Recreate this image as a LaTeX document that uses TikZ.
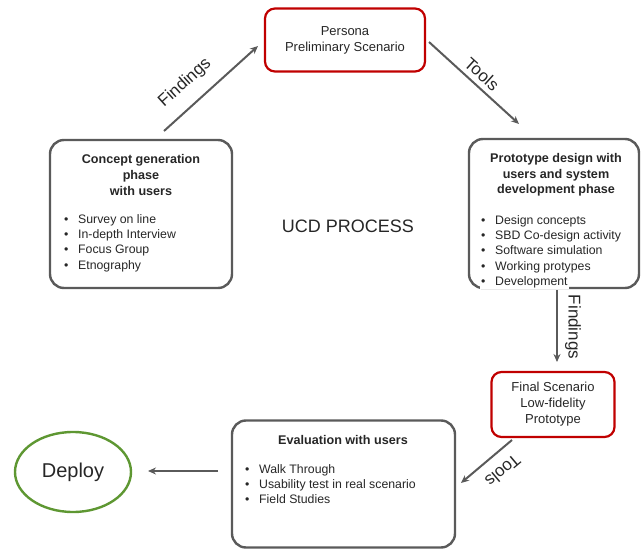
\documentclass[tikz,border=0pt]{standalone}
\usepackage{fontspec}
\setmainfont{Liberation Sans}
\usetikzlibrary{arrows.meta,shapes.geometric}
\definecolor{boxgray}{HTML}{5A5A5A}
\definecolor{txt}{HTML}{262626}
\definecolor{redb}{HTML}{C00000}
\definecolor{greenb}{HTML}{5E9732}
\tikzset{
  graybox/.style={draw=boxgray, line width=2.4pt, rounded corners=14pt, inner sep=0pt},
  redbox/.style={draw=redb, line width=2.2pt, rounded corners=10pt, inner sep=0pt, align=center, text=txt, font=\fontsize{13}{16}\selectfont},
  title/.style={align=center, text=txt, font=\bfseries\fontsize{12.6}{15.6}\selectfont, inner sep=0pt},
  items/.style={align=left, text=txt, font=\fontsize{12.3}{15.4}\selectfont, inner sep=0pt, anchor=north west},
  conn/.style={draw=boxgray, line width=2pt, -{Stealth[length=8pt,width=7pt]}},
  lbl/.style={text=txt, font=\fontsize{17}{19}\selectfont, inner sep=0pt}
}
\newcommand{\bl}{\makebox[14pt][l]{\textbullet}}
\begin{document}
\begin{tikzpicture}[x=1pt,y=-1pt]
\useasboundingbox (0,0) rectangle (641,549);
% boxes
\node[redbox, minimum width=160pt, minimum height=63pt] (persona) at (345,40) {Persona\\Preliminary Scenario};
\node[graybox, minimum width=182pt, minimum height=148pt] (concept) at (141,214) {};
\node[graybox, minimum width=170pt, minimum height=149pt] (proto) at (554,213.5) {};
\node[redbox, minimum width=123pt, minimum height=65pt] (final) at (553,404.5) {Final Scenario\\Low-fidelity\\Prototype};
\node[graybox, minimum width=223pt, minimum height=127pt] (eval) at (343.5,484) {};
\node[draw=greenb, line width=2.4pt, ellipse, minimum width=116pt, minimum height=80pt, text=txt, font=\fontsize{20}{22}\selectfont] (deploy) at (73,472) {Deploy};
% texts
\node[title] (ctitle) at (141,175) {Concept generation\\phase\\with users};
\node[items] (citems) at (64,214) {\bl Survey on line\\\bl In-depth Interview\\\bl Focus Group\\\bl Etnography};
\node[title] (ptitle) at (556,175) {Prototype design with\\users and system\\development phase};
\node[items] (pitems) at (481,215) {\bl Design concepts\\\bl SBD Co-design activity\\\bl Software simulation\\\bl Working protypes};
\node[items, fill=white, inner sep=1pt] (pdev) at (480,275) {\bl Development};
\node[title] (etitle) at (343,440) {Evaluation with users};
\node[items] (eitems) at (245,464) {\bl Walk Through\\\bl Usability test in real scenario\\\bl Field Studies};
\node[text=txt, font=\fontsize{18}{20}\selectfont, inner sep=0pt] (ucd) at (348,226) {UCD PROCESS};
% connectors
\coordinate (f1s) at (164,131);
\coordinate (f1e) at (258,46);
\draw[conn] (f1s) -- (f1e);
\node[lbl, rotate=42] (fl1) at (185,83) {Findings};
\coordinate (t1s) at (429,42);
\coordinate (t1e) at (519,124);
\draw[conn] (t1s) -- (t1e);
\node[lbl, rotate=-42] (tl1) at (482,74) {Tools};
\coordinate (f2s) at (557,290);
\coordinate (f2e) at (557,362);
\draw[conn] (f2s) -- (f2e);
\node[lbl, rotate=-90] (fl2) at (573,327) {Findings};
\coordinate (t2s) at (512,440);
\coordinate (t2e) at (461,483);
\draw[conn] (t2s) -- (t2e);
\node[lbl, rotate=220] (tl2) at (503,471) {Tools};
\coordinate (ds) at (218,471);
\coordinate (de) at (148,471);
\draw[conn] (ds) -- (de);
\end{tikzpicture}
\end{document}
